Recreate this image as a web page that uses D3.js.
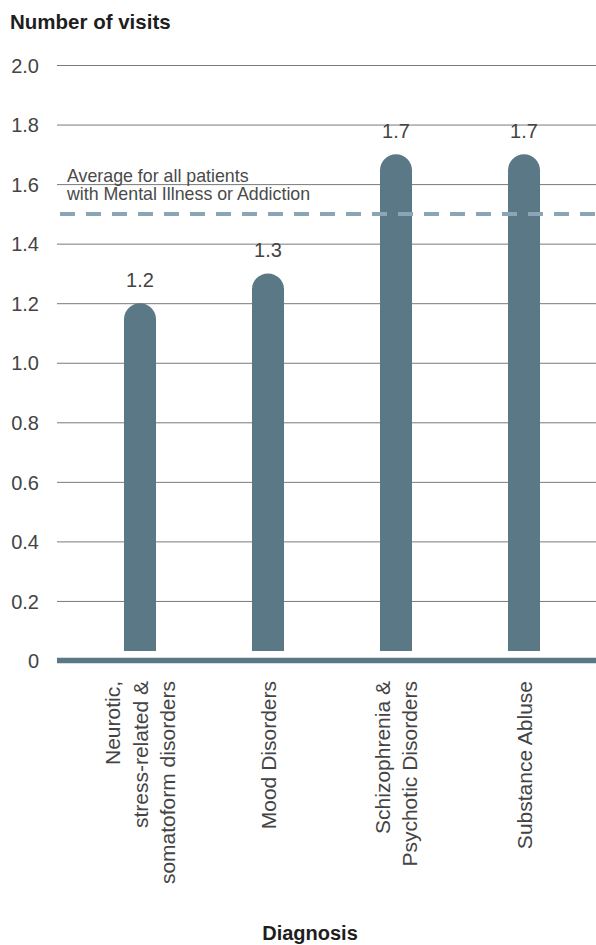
<!DOCTYPE html>
<html>
<head>
<meta charset="utf-8">
<script src="https://cdn.jsdelivr.net/npm/d3@7"></script>
<style>
  html, body { margin: 0; padding: 0; background: #fff; }
  svg { display: block; }
  text { font-family: "Liberation Sans", Arial, sans-serif; fill: #444; }
</style>
</head>
<body>
<script>
// Average number of visits by diagnosis group
const categories = [
  ["Neurotic,", "stress-related &", "somatoform disorders"],
  ["Mood Disorders"],
  ["Schizophrenia &", "Psychotic Disorders"],
  ["Substance Abluse"]
];
const visits = [1.2, 1.3, 1.7, 1.7];
const averageVisits = 1.5;
const averageLabel = ["Average for all patients", "with Mental Illness or Addiction"];
const yTicks = [0, 0.2, 0.4, 0.6, 0.8, 1.0, 1.2, 1.4, 1.6, 1.8, 2.0];

const W = 596, H = 945;
const barColor = "#5a7885";
const dashColor = "#89a5b6";

const svg = d3.select("body").append("svg").attr("width", W).attr("height", H);

const y = d3.scaleLinear().domain([0, 2]).range([660.5, 65]);
const x = d3.scalePoint().domain(d3.range(categories.length)).range([76, 588]).padding(0.5);
const barW = 32;
const barBottom = 651;
const plotLeft = 57;

// Title
svg.append("text").attr("x", 10).attr("y", 29)
  .attr("font-size", 20.5).attr("font-weight", 700).style("fill", "#1e1e1e")
  .text("Number of visits");

// Gridlines and tick labels
const yAxis = d3.axisLeft(y).tickValues(yTicks)
  .tickSize(-(W - plotLeft)).tickPadding(0)
  .tickFormat(d => d === 0 ? "0" : d3.format(".1f")(d));
const gAxis = svg.append("g").attr("transform", `translate(${plotLeft},0)`).call(yAxis);
gAxis.select(".domain").remove();
gAxis.selectAll(".tick line").attr("stroke", "#7a7a7a").attr("stroke-width", 1)
  .filter(d => d === 0).remove();
gAxis.selectAll(".tick text")
  .attr("x", -18).attr("dy", "0.36em")
  .attr("font-size", 20)
  .style("fill", "#444").style("font-family", "'Liberation Sans', Arial, sans-serif");

// Bars with rounded tops
const r = barW / 2;
svg.append("g").selectAll("path").data(visits).join("path")
  .attr("fill", barColor)
  .attr("d", (v, i) => {
    const cx = x(i), top = y(v);
    const p = d3.path();
    p.moveTo(cx - r, barBottom);
    p.lineTo(cx - r, top + r);
    p.arc(cx, top + r, r, Math.PI, 0);
    p.lineTo(cx + r, barBottom);
    p.closePath();
    return p.toString();
  });

// Value labels
svg.append("g").selectAll("text").data(visits).join("text")
  .attr("x", (v, i) => x(i)).attr("y", v => y(v) - 16)
  .attr("text-anchor", "middle").attr("font-size", 20)
  .text(v => d3.format(".1f")(v));

// Baseline
svg.append("line")
  .attr("x1", plotLeft).attr("x2", W).attr("y1", y(0)).attr("y2", y(0))
  .attr("stroke", barColor).attr("stroke-width", 5.5);

// Average reference line
svg.append("line")
  .attr("x1", 60).attr("x2", W).attr("y1", y(averageVisits)).attr("y2", y(averageVisits))
  .attr("stroke", dashColor).attr("stroke-width", 4).attr("stroke-dasharray", "15,11");

svg.append("g").selectAll("text").data(averageLabel).join("text")
  .attr("x", 67).attr("y", (d, i) => 181.5 + i * 18.5)
  .attr("font-size", 17.8).style("fill", "#4a4a4a")
  .text(d => d);

// Category labels, rotated
const lineGap = 27.5;
const catG = svg.append("g").selectAll("g").data(categories).join("g")
  .attr("transform", (d, i) => `translate(${x(i)},681)`);
catG.each(function(lines) {
  const n = lines.length;
  d3.select(this).selectAll("text").data(lines).join("text")
    .attr("transform", (d, j) => `translate(${(j - (n - 1) / 2) * lineGap + 7.5},0) rotate(-90)`)
    .attr("text-anchor", "end").attr("font-size", 21)
    .text(d => d);
});

// Axis title
svg.append("text").attr("x", 310).attr("y", 940)
  .attr("text-anchor", "middle").attr("font-size", 20).attr("font-weight", 700).style("fill", "#1e1e1e")
  .text("Diagnosis");
</script>
</body>
</html>
